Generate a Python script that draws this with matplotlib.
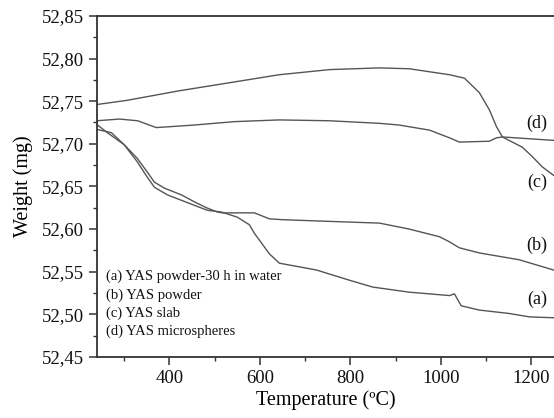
import numpy as np
import matplotlib.pyplot as plt
from matplotlib.ticker import MultipleLocator, FuncFormatter

# (a) YAS powder after 30 h in water
temp_a = [239, 263, 300, 329, 351, 367, 396, 440, 484, 515, 550, 577, 588, 621, 643,
          725, 798, 849, 930, 997, 1019, 1030, 1045, 1085, 1151, 1196, 1249]
weight_a = [52.723, 52.713, 52.699, 52.679, 52.661, 52.649, 52.640, 52.631, 52.622, 52.620,
            52.614, 52.605, 52.595, 52.571, 52.560, 52.552, 52.540, 52.532, 52.526, 52.523,
            52.522, 52.524, 52.510, 52.505, 52.501, 52.497, 52.496]

# (b) YAS powder
temp_b = [239, 272, 300, 329, 351, 367, 389, 427, 455, 482, 506, 517, 588, 621, 650,
          754, 864, 930, 997, 1019, 1041, 1085, 1173, 1249]
weight_b = [52.717, 52.713, 52.699, 52.683, 52.667, 52.655, 52.648, 52.640, 52.632, 52.625,
            52.620, 52.619, 52.619, 52.612, 52.611, 52.609, 52.607, 52.600, 52.591, 52.585,
            52.578, 52.572, 52.564, 52.552]

# (c) YAS slab
temp_c = [239, 307, 420, 643, 754, 864, 930, 1019, 1052, 1085, 1107, 1123, 1136, 1180,
          1202, 1224, 1249]
weight_c = [52.746, 52.751, 52.762, 52.781, 52.787, 52.789, 52.788, 52.781, 52.777, 52.760,
            52.740, 52.720, 52.708, 52.696, 52.685, 52.673, 52.663]

# (d) YAS microspheres
temp_d = [239, 290, 330, 371, 455, 544, 643, 754, 864, 908, 975, 1019, 1041, 1107, 1123,
          1136, 1249]
weight_d = [52.727, 52.729, 52.727, 52.719, 52.722, 52.726, 52.728, 52.727, 52.724, 52.722,
            52.716, 52.707, 52.702, 52.703, 52.707, 52.708, 52.704]

tags = ["(a)", "(b)", "(c)", "(d)"]
tag_y = [52.518, 52.581, 52.655, 52.724]
legend_lines = ["(a) YAS powder-30 h in water", "(b) YAS powder",
                "(c) YAS slab", "(d) YAS microspheres"]

plt.rcParams['font.family'] = ['Liberation Serif', 'DejaVu Serif']

fig = plt.figure(figsize=(5.54, 4.18), dpi=100)
ax = fig.add_axes([0.175, 0.146, 0.825, 0.816])

for t, w in [(temp_a, weight_a), (temp_b, weight_b), (temp_c, weight_c), (temp_d, weight_d)]:
    ax.plot(t, w, color='#555555', lw=1.0)

for tag, y in zip(tags, tag_y):
    ax.text(1212, y, tag, fontsize=13, ha='center', va='center', color='#111111')

ax.text(0.02, 0.255, "\n".join(legend_lines), transform=ax.transAxes,
        fontsize=10.5, va='top', ha='left', linespacing=1.45, color='#111111')

ax.set_xlim(240, 1250)
ax.set_ylim(52.45, 52.85)
ax.xaxis.set_major_locator(MultipleLocator(200))
ax.xaxis.set_minor_locator(MultipleLocator(100))
ax.yaxis.set_major_locator(MultipleLocator(0.05))
ax.yaxis.set_minor_locator(MultipleLocator(0.025))
ax.yaxis.set_major_formatter(FuncFormatter(lambda v, p: f"{v:.2f}".replace('.', ',')))

ax.spines['right'].set_visible(False)
for s in ['left', 'bottom', 'top']:
    ax.spines[s].set_linewidth(1.3)
    ax.spines[s].set_color('#333333')
ax.tick_params(which='major', direction='out', length=6, width=1.1, labelsize=13.5,
               colors='#333333', labelcolor='#111111')
ax.tick_params(which='minor', direction='out', length=3, width=1.0, colors='#333333')

ax.set_xlabel("Temperature (ºC)", fontsize=14.5, labelpad=2)
ax.set_ylabel("Weight (mg)", fontsize=14.5, labelpad=6)

fig.savefig("out.png", dpi=100)
